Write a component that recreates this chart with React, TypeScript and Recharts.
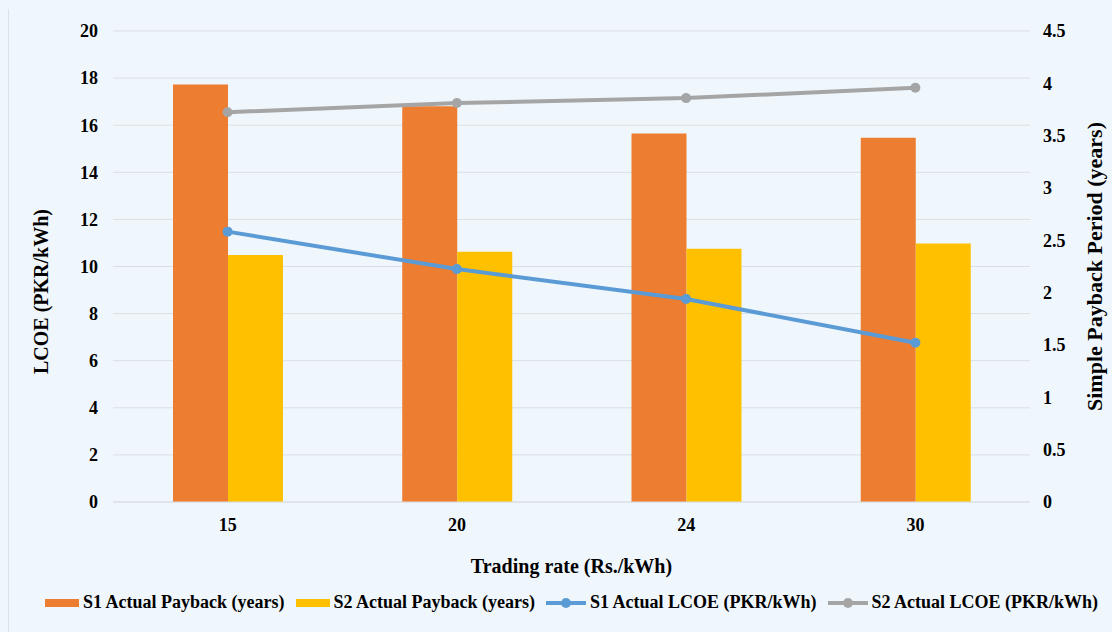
import React from "react";
import {
  ComposedChart,
  Bar,
  Line,
  XAxis,
  YAxis,
  CartesianGrid,
} from "recharts";

const tradingRates = ["15", "20", "24", "30"];
const s1Payback = [3.99, 3.78, 3.52, 3.48];
const s2Payback = [2.36, 2.39, 2.42, 2.47];
const s1Lcoe = [11.48, 9.89, 8.62, 6.76];
const s2Lcoe = [16.55, 16.94, 17.15, 17.59];

const lcoeTicks = [0, 2, 4, 6, 8, 10, 12, 14, 16, 18, 20];
const paybackTicks = [0, 0.5, 1, 1.5, 2, 2.5, 3, 3.5, 4, 4.5];

const FONT = "Liberation Serif";
const BG = "#f0f7fc";

const series = [
  { key: "s1Payback", name: "S1 Actual Payback (years)", color: "#ed7d31", kind: "bar" },
  { key: "s2Payback", name: "S2 Actual Payback (years)", color: "#ffc000", kind: "bar" },
  { key: "s1Lcoe", name: "S1 Actual LCOE (PKR/kWh)", color: "#5b9bd5", kind: "line" },
  { key: "s2Lcoe", name: "S2 Actual LCOE (PKR/kWh)", color: "#a5a5a5", kind: "line" },
];

const data = tradingRates.map((rate, i) => ({
  rate,
  s1Payback: s1Payback[i],
  s2Payback: s2Payback[i],
  s1Lcoe: s1Lcoe[i],
  s2Lcoe: s2Lcoe[i],
}));

const tickStyle = { fontFamily: FONT, fontSize: 18, fontWeight: 700, fill: "#000" };
const titleStyle = { fontFamily: FONT, fontSize: 20, fontWeight: 700, fill: "#000" };

// legend row sits under the x axis title
const LegendRow = () => (
  <div
    style={{
      position: "absolute",
      top: 592,
      left: 45,
      display: "flex",
      alignItems: "center",
      fontFamily: FONT,
      fontSize: 18,
      fontWeight: 700,
      color: "#000",
      whiteSpace: "nowrap",
    }}
  >
    {series.map((s) => (
      <div key={s.key} style={{ display: "flex", alignItems: "center", marginRight: 11 }}>
        {s.kind === "bar" ? (
          <span style={{ width: 34, height: 8, background: s.color, marginRight: 4 }} />
        ) : (
          <svg width={40} height={12} style={{ marginRight: 4 }}>
            <line x1={0} y1={6} x2={40} y2={6} stroke={s.color} strokeWidth={4} />
            <circle cx={20} cy={6} r={5} fill={s.color} />
          </svg>
        )}
        <span>{s.name}</span>
      </div>
    ))}
  </div>
);

export default function App() {
  return (
    <div
      style={{
        position: "absolute",
        left: 0,
        top: 0,
        width: 1112,
        height: 632,
        background: BG,
        fontFamily: FONT,
      }}
    >
      <div
        style={{
          position: "absolute",
          left: 8,
          top: 9,
          width: 1,
          height: 623,
          background: "#dbe3ea",
        }}
      />
      <ComposedChart
        width={1112}
        height={632}
        data={data}
        margin={{ top: 31, right: 0, bottom: 0, left: 0 }}
        barCategoryGap={60}
        barGap={0}
        style={{ fontFamily: FONT }}
      >
        <CartesianGrid vertical={false} stroke="#d9dfe4" yAxisId="lcoe" />
        <XAxis
          dataKey="rate"
          height={130}
          axisLine={{ stroke: "#d9dfe4" }}
          tickLine={false}
          tickSize={0}
          tickMargin={16}
          tick={tickStyle}
          label={{
            value: "Trading rate (Rs./kWh)",
            position: "insideTop",
            offset: 57,
            style: titleStyle,
          }}
        />
        <YAxis
          yAxisId="lcoe"
          orientation="left"
          width={113}
          domain={[0, 20]}
          ticks={lcoeTicks}
          axisLine={false}
          tickLine={false}
          tickSize={0}
          tickMargin={15}
          tick={tickStyle}
          label={{
            value: "LCOE (PKR/kWh)",
            angle: -90,
            position: "center",
            dx: -16,
            dy: 25,
            style: titleStyle,
          }}
        />
        <YAxis
          yAxisId="payback"
          orientation="right"
          width={82}
          domain={[0, 4.5]}
          ticks={paybackTicks}
          axisLine={false}
          tickLine={false}
          tickSize={0}
          tickMargin={13}
          tick={{ ...tickStyle, textAnchor: "start" }}
          label={{
            value: "Simple Payback Period (years)",
            angle: -90,
            position: "center",
            dx: 23,
            style: { ...titleStyle, fontSize: 22 },
          }}
        />
        <Bar
          yAxisId="payback"
          dataKey="s1Payback"
          name={series[0].name}
          fill={series[0].color}
          isAnimationActive={false}
        />
        <Bar
          yAxisId="payback"
          dataKey="s2Payback"
          name={series[1].name}
          fill={series[1].color}
          isAnimationActive={false}
        />
        <Line
          yAxisId="lcoe"
          dataKey="s1Lcoe"
          name={series[2].name}
          stroke={series[2].color}
          strokeWidth={4}
          dot={{ r: 5, fill: series[2].color, stroke: series[2].color, strokeWidth: 0 }}
          isAnimationActive={false}
        />
        <Line
          yAxisId="lcoe"
          dataKey="s2Lcoe"
          name={series[3].name}
          stroke={series[3].color}
          strokeWidth={4}
          dot={{ r: 5, fill: series[3].color, stroke: series[3].color, strokeWidth: 0 }}
          isAnimationActive={false}
        />
      </ComposedChart>
      <LegendRow />
    </div>
  );
}
